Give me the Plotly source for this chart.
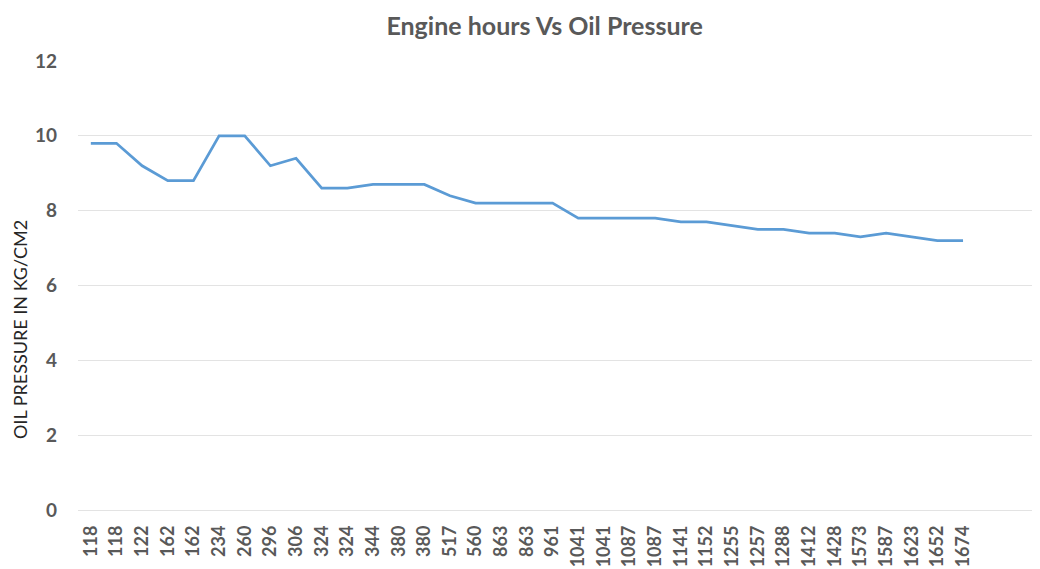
import plotly.graph_objects as go

engine_hours = ["118", "118", "122", "162", "162", "234", "260", "296", "306", "324",
                "324", "344", "380", "380", "517", "560", "863", "863", "961", "1041",
                "1041", "1087", "1087", "1141", "1152", "1255", "1257", "1288", "1412",
                "1428", "1573", "1587", "1623", "1652", "1674"]
oil_pressure = [9.8, 9.8, 9.2, 8.8, 8.8, 10.0, 10.0, 9.2, 9.4, 8.6,
                8.6, 8.7, 8.7, 8.7, 8.4, 8.2, 8.2, 8.2, 8.2, 7.8,
                7.8, 7.8, 7.8, 7.7, 7.7, 7.6, 7.5, 7.5, 7.4,
                7.4, 7.3, 7.4, 7.3, 7.2, 7.2]
y_ticks = [0, 2, 4, 6, 8, 10, 12]

idx = list(range(len(engine_hours)))

fig = go.Figure()
fig.add_trace(go.Scatter(
    x=idx, y=oil_pressure, mode="lines",
    line=dict(color="#5B9BD5", width=2.75),
    hoverinfo="text", text=[f"{h}: {p}" for h, p in zip(engine_hours, oil_pressure)],
))

font_family = "Lato, 'Open Sans', sans-serif"
# page body has an 8px margin, so the figure is drawn 8px in from the window edge
fig.update_layout(
    width=1032, height=561,
    margin=dict(l=70, r=0, t=53, b=59, autoexpand=False),
    paper_bgcolor="white", plot_bgcolor="white",
    showlegend=False,
    font=dict(family=font_family, color="#595959"),
    title=dict(text="<b>Engine hours Vs Oil Pressure</b>", x=0.520, xanchor="center",
               y=0.968, yanchor="middle", font=dict(size=25, color="#595959", family=font_family)),
    xaxis=dict(
        range=[-0.5, 37.0], automargin=False,
        tickmode="array", tickvals=idx, ticktext=[f"<b>{h}</b>" for h in engine_hours],
        tickangle=-90, tickfont=dict(size=18, color="#595959"),
        showgrid=False, zeroline=False, showline=False, ticks="",
        ticklabelstandoff=11,
    ),
    yaxis=dict(
        range=[0, 12], automargin=False, tickmode="array", tickvals=y_ticks,
        ticktext=[f"<b>{v}</b>" for v in y_ticks],
        tickfont=dict(size=19, color="#595959"),
        showgrid=True, gridcolor="#E3E3E3", gridwidth=1,
        zeroline=True, zerolinecolor="#E3E3E3", zerolinewidth=1,
        showline=False, ticks="", ticklabelstandoff=20,
    ),
)
fig.add_annotation(
    text="OIL PRESSURE IN KG/CM2", textangle=-90,
    xref="paper", yref="paper", x=-0.0603, y=0.403,
    xanchor="center", yanchor="middle", showarrow=False,
    font=dict(size=18, color="#262626", family=font_family),
)
fig.write_html("out.html")
